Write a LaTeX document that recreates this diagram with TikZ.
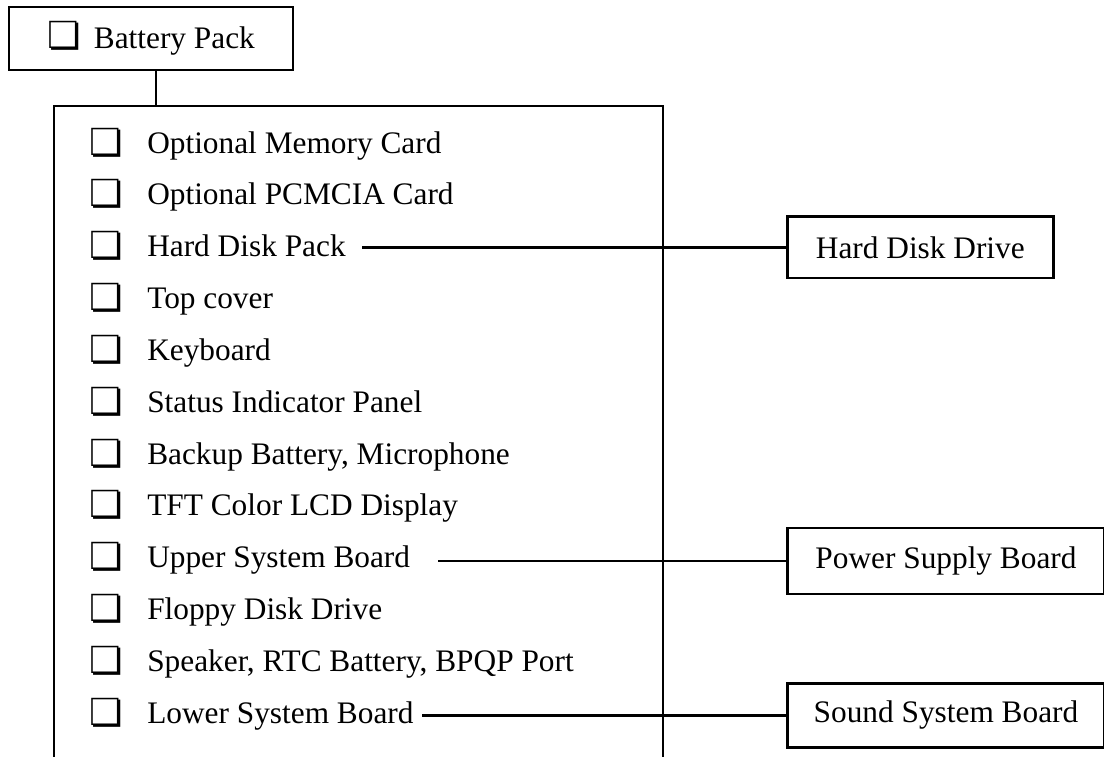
\documentclass[tikz,border=0pt]{standalone}
\usepackage{fontspec}
\setmainfont{Liberation Serif}
\newfontfamily\symfont{DejaVu Sans}
\newcommand\cbglyph{{\symfont\fontsize{28}{28}\selectfont ❏}}
\begin{document}
\begin{tikzpicture}[x=0.75pt,y=-0.75pt,
  txt/.style={font=\fontsize{23.5}{28}\selectfont},
  box/.style={draw, line width=2pt, inner sep=0pt, txt},
  item/.style={anchor=base west, inner sep=0pt, txt},
  cb/.style={anchor=base west, inner sep=0pt},
  link/.style={line width=2pt}]
\useasboundingbox (0,0) rectangle (1104,757);

% top box
\node[box, minimum width=213pt, minimum height=47.25pt] (bp) at (151,38.5)
  {\cbglyph\hspace{10pt}Battery Pack};

% big frame (open at the bottom)
\coordinate (bbtop) at (156,106);
\draw[link] (54,757) -- (54,106) -- (663,106) -- (663,757);
\draw[link] (bbtop |- bp.south) -- (bbtop);

% items
\foreach \i/\t in {1/Optional Memory Card, 2/Optional PCMCIA Card, 3/Hard Disk Pack,
  4/Top cover, 5/Keyboard, 6/Status Indicator Panel, 7/{Backup Battery, Microphone},
  8/TFT Color LCD Display, 9/Upper System Board, 10/Floppy Disk Drive,
  11/{Speaker, RTC Battery, BPQP Port}, 12/Lower System Board}{
  \node[cb] (c\i) at (89,{155+51.85*(\i-1)}) {\cbglyph};
  \node[item] (i\i) at (147,{153+51.85*(\i-1)}) {\t};
}

% right boxes
\node[box, anchor=west, minimum width=199.5pt, minimum height=46pt] (hdd) at (786,247.3) {Hard Disk Drive};
\node[box, anchor=west, minimum width=238pt, minimum height=49.5pt] (psb) at (786,561) {Power Supply Board};
\node[box, anchor=west, minimum width=238pt, minimum height=48pt] (ssb) at (786,715.5) {Sound System Board};

% connectors
\coordinate (l1) at (362,247.3);
\coordinate (l2) at (438,561);
\coordinate (l3) at (422,715.5);
\draw[link] (l1) -- (hdd.west);
\draw[link] (l2) -- (psb.west);
\draw[link] (l3) -- (ssb.west);
\end{tikzpicture}
\end{document}
